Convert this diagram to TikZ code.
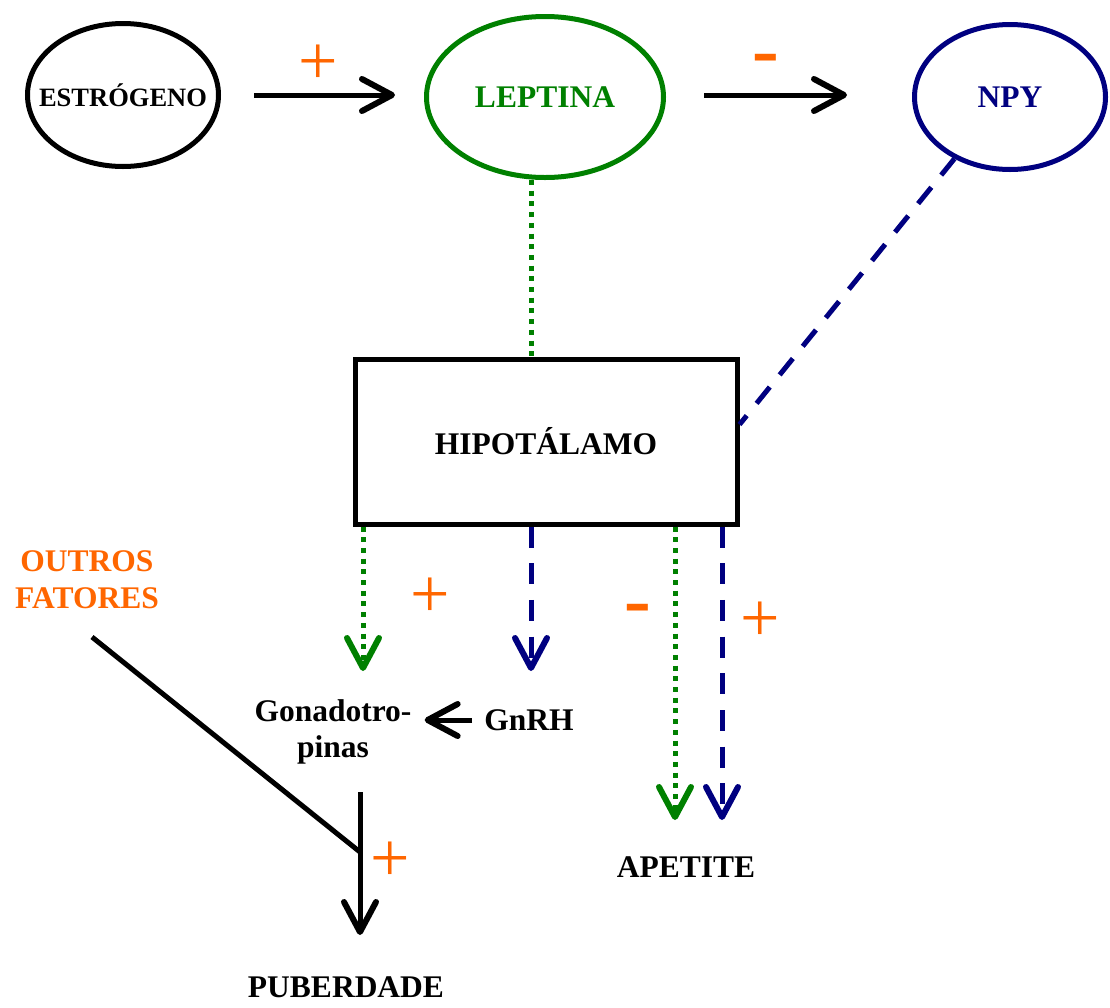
\documentclass[tikz,border=0pt]{standalone}
\usepackage{fontspec}
\setmainfont{Liberation Serif}
\newfontfamily\signfont{Liberation Sans}
\newfontfamily\plusfont{Liberation Serif}
\usetikzlibrary{arrows.meta,calc,shapes.geometric}
\definecolor{lgreen}{HTML}{008000}
\definecolor{npyblue}{HTML}{000080}
\definecolor{sorange}{HTML}{FF6600}
\begin{document}
\begin{tikzpicture}[x=1pt,y=-1pt,
  lbl/.style={font=\fontsize{31.5}{36}\selectfont\bfseries, inner sep=0pt, align=center},
  oval/.style={ellipse, draw, line width=5pt, inner sep=0pt},
  vtip/.style={-{Straight Barb[length=30pt,width=32pt,line width=6pt,round]}},
  arr/.style={line width=5pt, vtip},
  dotg/.style={line width=5pt, lgreen, dash pattern=on 5pt off 5.7pt},
  dashb/.style={line width=5pt, npyblue, dash pattern=on 21pt off 15.7pt},
  plussign/.style={font=\fontsize{70}{70}\selectfont\plusfont, text=sorange, inner sep=0pt},
  minussign/.style={font=\fontsize{86}{86}\selectfont\signfont, text=sorange, inner sep=0pt},
]
\useasboundingbox (0,0) rectangle (1110,1007);

% top ellipses
\node[oval, minimum width=191pt, minimum height=143pt,
  label={[lbl, font=\fontsize{26.5}{30}\selectfont\bfseries]center:ESTRÓGENO}] (est) at (123,95) {};
\node[oval, draw=lgreen, minimum width=237pt, minimum height=161pt,
  label={[lbl, text=lgreen]center:LEPTINA}] (lep) at (545,97) {};
\node[oval, draw=npyblue, minimum width=191pt, minimum height=145pt,
  label={[lbl, text=npyblue]center:NPY}] (npy) at (1010,97) {};

% hypothalamus
\node[draw, line width=5pt, minimum width=382pt, minimum height=165pt, lbl] (hyp) at (546,441.5) {HIPOTÁLAMO};

% text nodes
\node[lbl, text=sorange, font=\fontsize{31.5}{37}\selectfont\bfseries] (out) at (87,580) {OUTROS\\FATORES};
\node[lbl] (gon) at (333,732) {Gonadotro-\\pinas};
\node[lbl] (gnrh) at (529,720) {GnRH};
\node[lbl] (ape) at (686,867) {APETITE};
\node[lbl] (pub) at (346,987) {PUBERDADE};

% signs
\node[plussign] (s1) at (318,64.5) {+};
\node[minussign] (s2) at (766,67) {-};
\node[plussign] (s3) at (430,598) {+};
\node[minussign] (s4) at (638,617.5) {-};
\node[plussign] (s5) at (760,622) {+};
\node[plussign] (s6) at (390,862) {+};

% top arrows
\draw[arr, shorten <=33pt, shorten >=29pt] (est.east) -- (est.east -| lep.west);
\draw[arr, shorten <=38pt, shorten >=65pt] (lep.east |- est.east) -- (est.east -| npy.west);

% leptin / npy to hypothalamus
\draw[dotg] ([xshift=-14pt]lep.south) -- ([xshift=-15pt]hyp.north);
\draw[dashb] (npy.228) -- ($(hyp.north east)!0.4!(hyp.south east)$);

% outputs from hypothalamus
\coordinate (t1) at (363,671);
\coordinate (t2) at (531,671);
\coordinate (t3) at (675,820);
\coordinate (t4) at (722,820);
\draw[dotg, vtip] (hyp.south -| t1) -- (t1);
\draw[dashb, vtip] (hyp.south -| t2) -- (t2);
\draw[dotg, vtip] (hyp.south -| t3) -- (t3);
\draw[dashb, vtip] (hyp.south -| t4) -- (t4);

% GnRH -> gonadotropinas
\draw[arr, shorten <=12pt, shorten >=13pt] (gnrh.west) -- (gnrh.west -| gon.east);

% puberty
\coordinate (j) at (360,852);
\coordinate (o1) at (92,637);
\coordinate (p0) at (360,792);
\draw[line width=5pt] (o1) -- (j);
\draw[arr] (p0) -- (p0 |- 0,935);
\end{tikzpicture}
\end{document}
